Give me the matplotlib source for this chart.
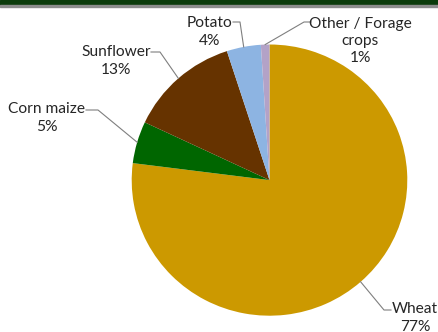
import numpy as np
import matplotlib
matplotlib.use("Agg")
import matplotlib.pyplot as plt
from matplotlib.patches import Rectangle

crops = ["Wheat", "Corn maize", "Sunflower", "Potato", "Other / Forage\ncrops"]
shares = [77, 5, 13, 4, 1]
colors = ["#CC9900", "#006600", "#663300", "#8DB4E2", "#B3A2C7"]

# label block centres and leader-line elbows, in pixels from top-left
label_pos = [(415, 318), (47, 118), (116, 61), (210, 32), (360, 41)]
elbows = [((391, 310), (384, 310)), ((86, 110), (98, 110)), ((151, 52), (160, 52)),
          ((233, 22), (240, 22)), ((311, 22), (304, 22))]

W, H = 439, 332
cx, cy, rx, ry = 269.5, 180.1, 137.8, 135.6

plt.rcParams["font.family"] = ["Lato", "DejaVu Sans"]
fig = plt.figure(figsize=(W / 100, H / 100), dpi=100)

ax = fig.add_axes([(cx - rx) / W, (H - cy - ry) / H, 2 * rx / W, 2 * ry / H])
ax.pie(shares, colors=colors, startangle=90, counterclock=False)
ax.set_xlim(-1, 1)
ax.set_ylim(-1, 1)
ax.set_aspect("auto")

ov = fig.add_axes([0, 0, 1, 1], zorder=3)
ov.set_xlim(0, W)
ov.set_ylim(H, 0)
ov.axis("off")
ov.add_patch(Rectangle((0, 0), W, 4.5, color="#0B3B0B"))
ov.add_patch(Rectangle((0, 4.5), W, 2, color="#8C8C8C"))

total = sum(shares)
start = 0
for name, val, pos, elb in zip(crops, shares, label_pos, elbows):
    mid = (start + val / 2) / total * 2 * np.pi
    start += val
    ex = cx + rx * np.sin(mid)
    ey = cy - ry * np.cos(mid)
    ov.plot([elb[0][0], elb[1][0], ex], [elb[0][1], elb[1][1], ey],
            color="#7F7F7F", lw=0.8)
    ov.text(pos[0], pos[1], f"{name}\n{val}%", ha="center", va="center",
            fontsize=11.2, color="#262626", linespacing=1.3)

fig.savefig("out.png", dpi=100)
